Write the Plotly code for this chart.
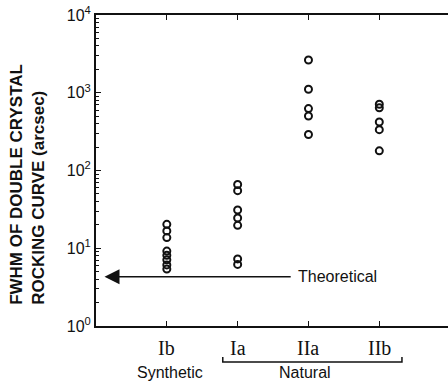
import math
import plotly.graph_objects as go

categories = ["Ib", "Ia", "IIa", "IIb"]
cat_pos = [1, 2, 3, 4]
fwhm_Ib = [20.3, 16.7, 13.7, 9.2, 8.1, 7.1, 6.1, 5.4]
fwhm_Ia = [66, 55, 31, 24.5, 19.7, 7.3, 6.2]
fwhm_IIa = [2640, 1110, 625, 502, 290]
fwhm_IIb = [712, 640, 420, 335, 179]
theoretical = 4.3
y_tickvals = [1, 10, 100, 1000, 10000]
y_ticktext = ["10<sup>0</sup>", "10<sup>1</sup>", "10<sup>2</sup>", "10<sup>3</sup>", "10<sup>4</sup>"]
minor_mult = [2, 3, 4, 5, 6, 7, 8, 9]

series = [fwhm_Ib, fwhm_Ia, fwhm_IIa, fwhm_IIb]
xs, ys = [], []
for p, vals in zip(cat_pos, series):
    xs += [p] * len(vals)
    ys += vals
minor_vals = [m * d for d in y_tickvals[:-1] for m in minor_mult]

INK = "#111111"
fig = go.Figure()
fig.add_trace(go.Scatter(
    x=xs, y=ys, mode="markers",
    marker=dict(symbol="circle-open", size=7, color=INK, line=dict(width=2, color=INK)),
    showlegend=False, hoverinfo="skip"))

fig.update_layout(
    width=448, height=384,
    margin=dict(l=96, r=0, t=15, b=58),
    paper_bgcolor="white", plot_bgcolor="white",
    font=dict(family="Liberation Sans, Arial", color=INK),
)
fig.update_xaxes(
    range=[0, 4.97], tickvals=cat_pos, ticktext=["", "", "", ""],
    showline=True, linecolor=INK, linewidth=2, mirror="ticks",
    ticks="inside", ticklen=5, tickwidth=1.2, tickcolor=INK,
    showgrid=False, zeroline=False)
fig.update_yaxes(
    type="log", range=[0, 4], tickvals=y_tickvals, ticktext=y_ticktext,
    tickfont=dict(size=16, family="Liberation Sans, Arial", color=INK),
    showline=True, linecolor=INK, linewidth=2, mirror=False,
    ticks="inside", ticklen=5, tickwidth=1.2, tickcolor=INK,
    minor=dict(tickmode="array", tickvals=minor_vals, ticks="inside", ticklen=3,
               tickwidth=1, tickcolor=INK, showgrid=False),
    showgrid=False, zeroline=False)

ann = []
# y-axis title
ann.append(dict(
    text="<b>FWHM OF DOUBLE CRYSTAL<br>ROCKING CURVE (arcsec)</b>",
    xref="paper", yref="paper", x=-0.195, y=0.455, xanchor="center", yanchor="middle",
    textangle=-90, showarrow=False, align="left",
    font=dict(size=17, family="Liberation Sans, Arial", color=INK)))
# category labels
for p, c in zip(cat_pos, categories):
    ann.append(dict(text=c, x=p, xref="x", y=-0.07, yref="paper", showarrow=False,
                    xanchor="center", yanchor="middle",
                    font=dict(size=20, family="Liberation Serif, Times New Roman", color=INK)))
ann.append(dict(text="Synthetic", x=1.04, xref="x", y=-0.151, yref="paper", showarrow=False,
                xanchor="center", yanchor="middle", font=dict(size=16, color=INK)))
ann.append(dict(text="Natural", x=2.95, xref="x", y=-0.151, yref="paper", showarrow=False,
                xanchor="center", yanchor="middle", font=dict(size=16, color=INK)))
# theoretical arrow
ann.append(dict(x=0.12, y=math.log10(theoretical), xref="x", yref="y",
                ax=2.77, ay=math.log10(theoretical), axref="x", ayref="y",
                showarrow=True, arrowhead=2, arrowsize=2.0, arrowwidth=1.5, arrowcolor=INK, text=""))
ann.append(dict(text="Theoretical", x=2.83, xref="x", y=math.log10(theoretical), yref="y",
                xanchor="left", yanchor="middle", showarrow=False, font=dict(size=16, color=INK)))
fig.update_layout(annotations=ann)

# bracket under natural types
fig.add_shape(type="path", xref="x", yref="paper",
              path="M 1.79,-0.1 L 1.79,-0.116 L 4.32,-0.116 L 4.32,-0.1",
              line=dict(color=INK, width=1.5))

fig.write_html("out.html")
